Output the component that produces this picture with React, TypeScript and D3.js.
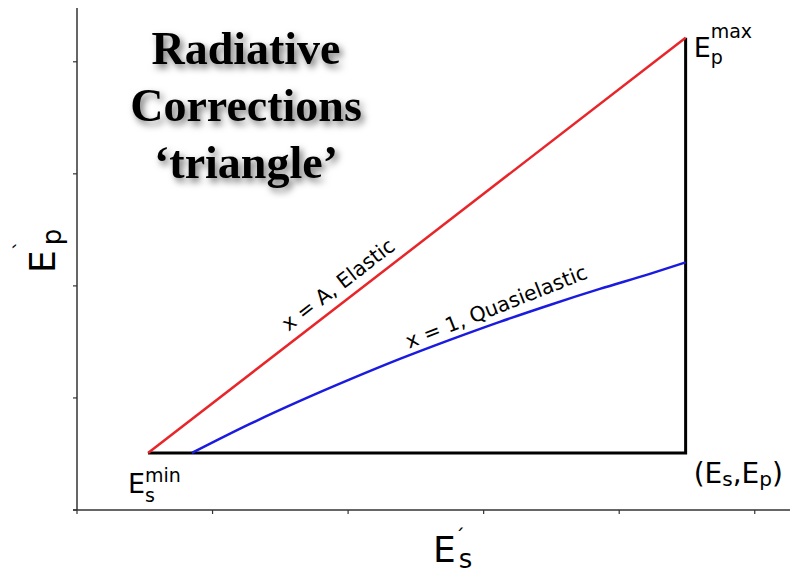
import React from 'react';
import * as d3 from 'd3';

// Axis ticks (unlabelled) in data units
const xTicks = [0, 1, 2, 3, 4, 5];
const yTicks = [0, 1, 2, 3, 4];

// Elastic line x = A: from (Es_min, Ep_min) to (Es_max, Ep_max)
const elasticEs = [0.524, 4.49];
const elasticEp = [0.509, 4.214];

// Quasielastic curve x = 1
const quasiEs = [0.848, 1.276, 1.645, 2.013, 2.382, 2.751, 3.119, 3.488, 3.857, 4.226, 4.49];
const quasiEp = [0.509, 0.768, 0.973, 1.165, 1.348, 1.518, 1.679, 1.83, 1.973, 2.107, 2.21];

// Black triangle edges: bottom (fixed Ep) and right side (fixed Es)
const boundaryEs = [0.524, 4.49, 4.49];
const boundaryEp = [0.509, 0.509, 4.214];

const titleLines = ['Radiative', 'Corrections', '\u2018triangle\u2019'];

const W = 790;
const H = 573;

export default function App() {
  const x = d3.scaleLinear().domain([0, 5.26]).range([77, 790]);
  const y = d3.scaleLinear().domain([0, 4.48]).range([510, 8]);

  const line = d3
    .line<[number, number]>()
    .x((d) => x(d[0]))
    .y((d) => y(d[1]));
  const curve = d3
    .line<[number, number]>()
    .x((d) => x(d[0]))
    .y((d) => y(d[1]))
    .curve(d3.curveMonotoneX);

  const elastic = elasticEs.map((v, i) => [v, elasticEp[i]] as [number, number]);
  const quasi = quasiEs.map((v, i) => [v, quasiEp[i]] as [number, number]);
  const boundary = boundaryEs.map((v, i) => [v, boundaryEp[i]] as [number, number]);

  const sans = "'DejaVu Sans', sans-serif";
  const axisColor = '#333';

  const minX = x(elasticEs[0]);
  const minY = y(elasticEp[0]);
  const maxX = x(elasticEs[1]);
  const maxY = y(elasticEp[1]);

  // label angles follow the lines
  const elasticAngle =
    (Math.atan2(y(elasticEp[1]) - y(elasticEp[0]), x(elasticEs[1]) - x(elasticEs[0])) * 180) / Math.PI;

  return (
    <svg
      width={W}
      height={H}
      style={{ position: 'absolute', left: 0, top: 0, background: '#fff' }}
      fontFamily={sans}
    >
      <defs>
        <filter id="titleShadow" x="-20%" y="-30%" width="140%" height="160%">
          <feDropShadow dx="3" dy="4" stdDeviation="3.5" floodColor="#000" floodOpacity="0.55" />
        </filter>
      </defs>
      <rect width={W} height={H} fill="#fff" />

      {/* axes */}
      <line x1={x(0)} x2={x(0)} y1={y(4.48)} y2={y(0)} stroke={axisColor} strokeWidth={1.5} />
      <line x1={x(0) - 4} x2={W} y1={y(0)} y2={y(0)} stroke={axisColor} strokeWidth={1.5} />
      {yTicks.map((t) => (
        <line key={'yt' + t} x1={x(0) - 4} x2={x(0)} y1={y(t)} y2={y(t)} stroke={axisColor} strokeWidth={1.2} />
      ))}
      {xTicks.map((t) => (
        <line key={'xt' + t} x1={x(t)} x2={x(t)} y1={y(0)} y2={y(0) + 4} stroke={axisColor} strokeWidth={1.2} />
      ))}

      {/* triangle */}
      <path d={line(boundary) || ''} fill="none" stroke="#000" strokeWidth={3} strokeLinejoin="miter" />
      <path d={line(elastic) || ''} fill="none" stroke="#e8262a" strokeWidth={2.5} />
      <path d={curve(quasi) || ''} fill="none" stroke="#1b1be0" strokeWidth={2.5} />

      {/* line labels */}
      <text
        transform={`translate(${x(1.56)},${y(1.59)}) rotate(${elasticAngle})`}
        fontSize={20.5}
        fill="#000"
      >
        x = A, Elastic
      </text>
      <text transform={`translate(${x(2.45)},${y(1.44)}) rotate(-21.5)`} fontSize={20.5} fill="#000">
        x = 1, Quasielastic
      </text>

      {/* corner labels */}
      <text x={minX - 20} y={minY + 40} fontSize={27} fill="#000">
        E
        <tspan fontSize={19} dy={-11}>min</tspan>
      </text>
      <text x={minX - 3} y={minY + 49} fontSize={19} fill="#000">s</text>

      <text x={maxX + 8} y={maxY + 19} fontSize={27} fill="#000">
        E
        <tspan fontSize={19} dy={-19}>max</tspan>
      </text>
      <text x={maxX + 25} y={maxY + 26} fontSize={19} fill="#000">p</text>

      <text x={maxX + 8} y={minY + 30} fontSize={28} fill="#000">
        (E
        <tspan fontSize={20} dy={3}>s</tspan>
        <tspan dy={-3}>,E</tspan>
        <tspan fontSize={20} dy={3}>p</tspan>
        <tspan dy={-3}>)</tspan>
      </text>

      {/* axis titles */}
      <text x={433} y={562} fontSize={36} fill="#000">
        E
        <tspan fontSize={20} dy={-19} dx={-1}>´</tspan>
        <tspan fontSize={26} dy={25} dx={-6}>s</tspan>
      </text>

      <text transform="translate(55,273) rotate(-90)" fontSize={36} fill="#000">
        E
        <tspan fontSize={20} dy={-27} dx={0}>`</tspan>
        <tspan fontSize={26} dy={33} dx={-5}>p</tspan>
      </text>

      {/* title */}
      <g filter="url(#titleShadow)" fontFamily="'Liberation Serif', serif" fontWeight="bold" fontSize={46} textAnchor="middle">
        {titleLines.map((t, i) => (
          <text key={t} x={246} y={64 + i * 57} fill="#000">
            {t}
          </text>
        ))}
      </g>
    </svg>
  );
}
